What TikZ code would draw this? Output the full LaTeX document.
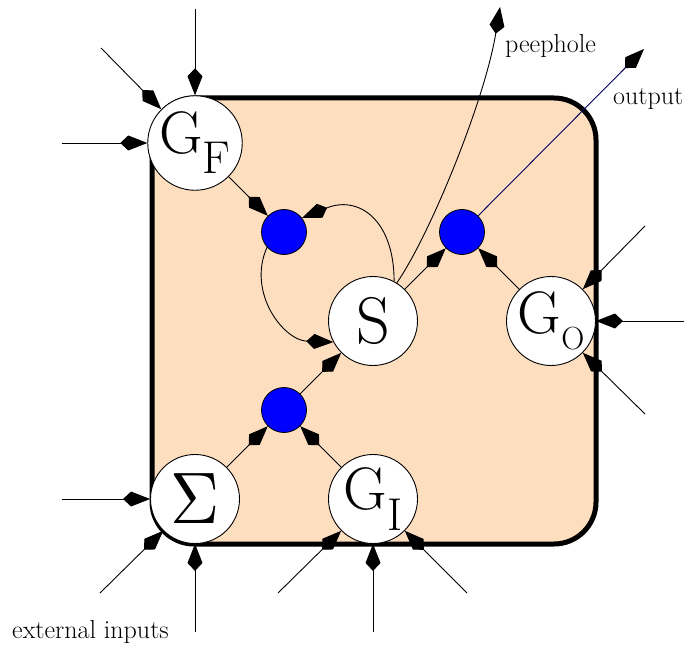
\documentclass[tikz,border=0pt]{standalone}
\usetikzlibrary{arrows.meta}

\definecolor{cellfill}{RGB}{253,222,191}
\definecolor{outline}{RGB}{0,0,96}

% G with a lowered index letter
\newcommand{\gatetext}[3]{{\fontsize{60}{60}\selectfont G}\raisebox{-#3}{\fontsize{#2}{#2}\selectfont #1}}

\begin{document}
\begin{tikzpicture}[
    x=1pt, y=1pt,
    gate/.style={
        circle, draw=black, fill=white, line width=0.9pt,
        minimum size=89pt, inner sep=0pt,
    },
    mult/.style={
        circle, draw=black, fill=blue, line width=0.8pt,
        minimum size=45pt, inner sep=0pt,
    },
    arrow/.style={-{Kite[length=27pt, width=15pt, inset=8pt]}, draw=black, line width=0.9pt},
    lbl/.style={font=\fontsize{26}{26}\selectfont, inner sep=0pt},
]
\useasboundingbox (0,0) rectangle (684,646);

% cell block
\draw[fill=cellfill, line width=5pt, rounded corners=42pt] (152,102) rectangle (596,548);

% units
\node[gate] (S)  at (373,325) {\fontsize{66}{66}\selectfont S};
\node[gate] (GF) at (195,503) {\gatetext{F}{46}{20pt}};
\node[gate] (GO) at (551,325) {\gatetext{O}{32}{16pt}};
\node[gate] (GI) at (373,147) {\gatetext{I}{46}{21pt}};
\node[gate] (SUM) at (195,147) {\scalebox{6.8}[7.3]{$\Sigma$}};

\node[mult] (m1) at (284,414) {};
\node[mult] (m2) at (462,414) {};
\node[mult] (m3) at (284,236) {};

% free ends
\coordinate (f1) at (195,637);
\coordinate (f2) at (101,598);
\coordinate (f3) at (62,503);
\coordinate (s1) at (62,147);
\coordinate (s2) at (100,53);
\coordinate (s3) at (195,14);
\coordinate (i1) at (278,53);
\coordinate (i2) at (373,14);
\coordinate (i3) at (467,53);
\coordinate (o1) at (645,420);
\coordinate (o2) at (684,325);
\coordinate (o3) at (645,232);
\coordinate (out) at (644,597);
\coordinate (peep) at (500,639);

% external inputs
\draw[arrow] (f1) -- (GF.north);
\draw[arrow] (f2) -- (GF.135);
\draw[arrow] (f3) -- (GF.west);
\draw[arrow] (s1) -- (SUM.west);
\draw[arrow] (s2) -- (SUM.225);
\draw[arrow] (s3) -- (SUM.south);
\draw[arrow] (i1) -- (GI.225);
\draw[arrow] (i2) -- (GI.south);
\draw[arrow] (i3) -- (GI.-45);
\draw[arrow] (o1) -- (GO.45);
\draw[arrow] (o2) -- (GO.east);
\draw[arrow] (o3) -- (GO.-45);

% inside the cell
\draw[arrow] (SUM) -- (m3);
\draw[arrow] (GI) -- (m3);
\draw[arrow] (m3) -- (S);
\draw[arrow] (GF) -- (m1);
\draw[arrow] (S) -- (m2);
\draw[arrow] (GO) -- (m2);
\draw[arrow] (S.62) to[out=90, in=22, looseness=1.4] (m1.38);
\draw[arrow] (m1.222) to[out=246, in=178, looseness=1.1] (S.208);

% outputs
\draw[arrow, draw=outline, -{Kite[length=27pt, width=15pt, inset=8pt, color=black]}] (m2) -- (out);
\draw[arrow] (S.58) .. controls (430,411) and (485,546) .. (peep);

\node[lbl, anchor=base west] (lpeep) at (505,593) {peephole};
\node[lbl, anchor=base west] (lout) at (613,541) {output};
\node[lbl, anchor=base west] (lin) at (12,8) {external inputs};

\end{tikzpicture}
\end{document}
